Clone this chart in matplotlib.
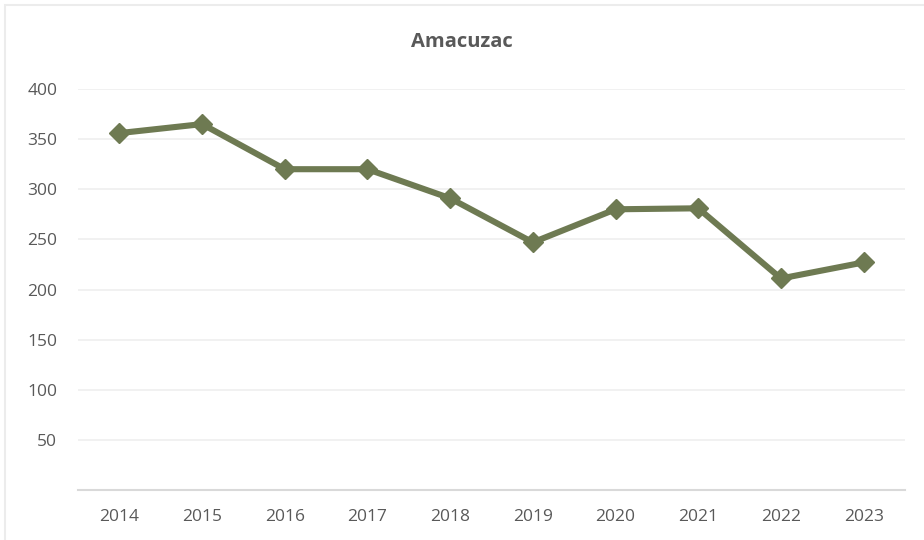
import matplotlib
matplotlib.use("Agg")
import matplotlib.pyplot as plt
from matplotlib.patches import Rectangle

years = ["2014", "2015", "2016", "2017", "2018", "2019", "2020", "2021", "2022", "2023"]
values = [356, 365, 320, 320, 291, 247, 280, 281, 211, 227]
yticks = [50, 100, 150, 200, 250, 300, 350, 400]
title = "Amacuzac"

plt.rcParams['font.family'] = ['Open Sans', 'DejaVu Sans']

fig = plt.figure(figsize=(9.24, 5.4), dpi=100)
fig.patches.append(Rectangle((5/924, -0.1), 1.2, 1 - 5/540 + 0.1, transform=fig.transFigure,
                             fill=False, edgecolor='#ececec', linewidth=1.5))
ax = fig.add_axes([78/924, 1 - 490/540, (905 - 78)/924, (490 - 89)/540])

x = list(range(len(years)))
ax.plot(x, values, color='#6e7a52', linewidth=4.4, marker='D', markersize=10.5, zorder=3)

ax.set_xlim(-0.5, len(years) - 0.5)
ax.set_ylim(0, 400)
ax.set_yticks(yticks)
ax.set_yticklabels([str(v) for v in yticks])
ax.set_xticks(x)
ax.set_xticklabels(years)
ax.grid(axis='y', color='#f0f0f0', linewidth=1.3)
ax.set_axisbelow(True)
for s in ['top', 'right', 'left']:
    ax.spines[s].set_visible(False)
ax.spines['bottom'].set_color('#d9d9d9')
ax.spines['bottom'].set_linewidth(1.5)
ax.tick_params(axis='both', length=0, labelsize=12.5, labelcolor='#595959')
ax.tick_params(axis='y', pad=15)
ax.tick_params(axis='x', pad=14)
fig.text(0.5, 1 - 42/540, title, ha='center', va='center', fontsize=14.5, fontweight='bold', color='#595959')

fig.savefig("out.png", dpi=100)
